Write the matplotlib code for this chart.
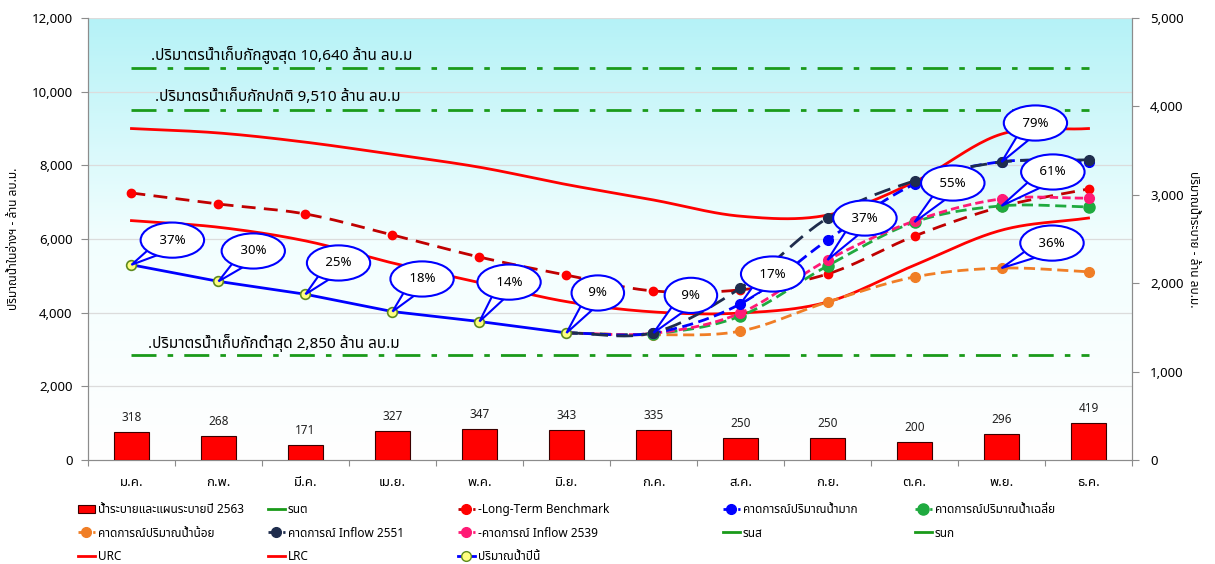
import numpy as np
import matplotlib
matplotlib.use('Agg')
import matplotlib.pyplot as plt
from matplotlib import font_manager as fm
from matplotlib.ft2font import FT2Font
from matplotlib.lines import Line2D
from matplotlib.patches import Patch, Polygon
from matplotlib.transforms import IdentityTransform
from matplotlib.colors import LinearSegmentedColormap
from matplotlib.ticker import FuncFormatter, MultipleLocator


# หาฟอนต์ที่มีอักษรไทย
def find_thai_font():
    names = []
    for f in fm.fontManager.ttflist:
        try:
            cmap = FT2Font(f.fname).get_charmap()
        except Exception:
            continue
        if 0x0E1B in cmap and 0x0E49 in cmap:
            names.append(f.name)
    for pref in ['Noto Sans Thai', 'Noto Sans Thai UI', 'Loma', 'Garuda', 'Sarabun', 'Tahoma']:
        if pref in names:
            return pref
    return names[0] if names else None


thai = find_thai_font()
plt.rcParams['font.family'] = ([thai] if thai else []) + ['DejaVu Sans']

# ข้อมูล
months = ['ม.ค.', 'ก.พ.', 'มี.ค.', 'เม.ย.', 'พ.ค.', 'มิ.ย.',
          'ก.ค.', 'ส.ค.', 'ก.ย.', 'ต.ค.', 'พ.ย.', 'ธ.ค.']
release = [318, 268, 171, 327, 347, 343, 335, 250, 250, 200, 296, 419]

current = [5300, 4850, 4500, 4030, 3760, 3450]            # ม.ค. - มิ.ย.
urc = [9000, 8880, 8630, 8300, 7950, 7480, 7060, 6620, 6650, 7550, 8850, 9000]
lrc = [6500, 6320, 5950, 5350, 4820, 4300, 4020, 3990, 4290, 5290, 6240, 6570]
benchmark = [7250, 6950, 6680, 6110, 5510, 5020, 4590, 4620, 5050, 6080, 6880, 7360]

# คาดการณ์ มิ.ย. - ธ.ค.
fc_high = [3450, 3450, 4240, 5970, 7490, 8100, 8080]
fc_avg = [3450, 3430, 3910, 5270, 6460, 6900, 6870]
fc_low = [3450, 3400, 3500, 4290, 4970, 5210, 5110]
fc_2551 = [3450, 3460, 4670, 6570, 7580, 8090, 8150]
fc_2539 = [3450, 3440, 3990, 5430, 6490, 7090, 7110]

max_level = 10640
normal_level = 9510
min_level = 2850

pct_labels = ['37%', '30%', '25%', '18%', '14%', '9%', '9%', '17%', '37%', '55%', '79%', '61%', '36%']


def smooth(xs, ys, n=24):
    # เส้นโค้งแบบ Catmull-Rom ผ่านทุกจุด
    xs = np.asarray(xs, float)
    ys = np.asarray(ys, float)
    px = np.concatenate([[2 * xs[0] - xs[1]], xs, [2 * xs[-1] - xs[-2]]])
    py = np.concatenate([[2 * ys[0] - ys[1]], ys, [2 * ys[-1] - ys[-2]]])
    ox, oy = [], []
    t = np.linspace(0, 1, n, endpoint=False)
    for i in range(1, len(px) - 2):
        for p, out in ((px, ox), (py, oy)):
            p0, p1, p2, p3 = p[i - 1], p[i], p[i + 1], p[i + 2]
            out.extend(0.5 * (2 * p1 + (-p0 + p2) * t
                              + (2 * p0 - 5 * p1 + 4 * p2 - p3) * t ** 2
                              + (-p0 + 3 * p1 - 3 * p2 + p3) * t ** 3))
    ox.append(xs[-1])
    oy.append(ys[-1])
    return ox, oy


x = np.arange(12)
xf = x[5:]

fig = plt.figure(figsize=(12.15, 5.64), dpi=100)
ax = fig.add_axes([0.0724, 0.1844, 0.8593, 0.7836])
ax2 = ax.twinx()

# พื้นหลังไล่สี
grad = np.linspace(0, 1, 256).reshape(-1, 1)
cmap = LinearSegmentedColormap.from_list('bg', ['#ffffff', '#f2fefe', '#b5f2f7'])
ax.imshow(grad, extent=[0, 1, 0, 1], transform=ax.transAxes, cmap=cmap,
          aspect='auto', origin='lower', zorder=0)

ax.set_xlim(-0.5, 11.5)
ax.set_ylim(0, 12000)
ax2.set_ylim(0, 5000)

for yv in range(2000, 12001, 2000):
    ax.axhline(yv, color='#dcdcdc', lw=0.9, zorder=1)

green = '#1a9a1a'
dd = (0, (9, 4, 2, 4))
ax.plot(x, [min_level] * 12, color=green, lw=2, ls=dd, zorder=2)
ax.plot(x, [max_level] * 12, color=green, lw=2, ls=dd, zorder=2)
ax.plot(x, [normal_level] * 12, color=green, lw=2, ls=dd, zorder=2)

ax.text(0.22, 10990, '.ปริมาตรน้ำเก็บกักสูงสุด 10,640 ล้าน ลบ.ม', fontsize=11, va='center', ha='left')
ax.text(0.27, 9860, '.ปริมาตรน้ำเก็บกักปกติ 9,510 ล้าน ลบ.ม', fontsize=11, va='center', ha='left')
ax.text(0.19, 3180, '.ปริมาตรน้ำเก็บกักต่ำสุด 2,850 ล้าน ลบ.ม', fontsize=11, va='center', ha='left')

# URC / LRC
sx, sy = smooth(x, urc)
ax.plot(sx, sy, color='#ff0000', lw=2, zorder=3)
sx, sy = smooth(x, lrc)
ax.plot(sx, sy, color='#ff0000', lw=2, zorder=3)

# Long-term benchmark
sx, sy = smooth(x, benchmark)
ax.plot(sx, sy, color='#c00000', lw=2, ls=(0, (5, 3)), zorder=3)
ax.plot(x, benchmark, 'o', color='#ff0000', ms=6, zorder=4)

styles = [
    (fc_low, '#f07e26', (0, (4, 2)), 7),
    (fc_avg, '#1faa3f', (0, (4, 2)), 8),
    (fc_2539, '#ff1a75', (0, (3, 1.5)), 7),
    (fc_high, '#0000ff', (0, (4, 2)), 7),
    (fc_2551, '#1f2d4d', (0, (6, 3)), 7),
]
for vals, c, ls, ms in styles:
    sx, sy = smooth(xf, vals)
    ax.plot(sx, sy, color=c, lw=2, ls=ls, zorder=5)
    ax.plot(xf[1:], vals[1:], 'o', color=c, ms=ms, zorder=6)

# ปริมาณน้ำปีนี้
ax.plot(x[:6], current, color='#0000ff', lw=2, zorder=7)
ax.plot(x[:6], current, 'o', mfc='#ffff80', mec='#5f8a1e', ms=7, mew=1.2, zorder=8)

# บอลลูนเปอร์เซ็นต์
anchors = [(0, current[0]), (1, current[1]), (2, current[2]), (3, current[3]),
           (4, current[4]), (5, current[5]), (6, fc_high[1]), (7, fc_high[2]),
           (8, fc_2539[3]), (9, fc_avg[4]), (10, fc_2551[5]), (10, fc_avg[5]),
           (10, fc_low[5])]
offsets = [(0.47, 670), (0.40, 825), (0.38, 850), (0.34, 885), (0.34, 1070),
           (0.36, 1085), (0.43, 1020), (0.37, 810), (0.43, 1140), (0.44, 1060),
           (0.39, 1060), (0.59, 920), (0.58, 680)]
for lab, (xa, ya), (dx, dy) in zip(pct_labels, anchors, offsets):
    tip = ax.transData.transform((xa, ya))
    base = ax.transData.transform((xa + dx, ya + dy))
    d = base - tip
    nrm = np.array([-d[1], d[0]]) / np.hypot(*d) * 9
    ax.add_patch(Polygon([tip, base + nrm, base - nrm], closed=True,
                         transform=IdentityTransform(), fc='white', ec='#0000ff',
                         lw=1.5, zorder=8.6, clip_on=False))
    ax.text(xa + dx, ya + dy, ' ' + lab + ' ', ha='center', va='center',
            fontsize=9.5, zorder=9,
            bbox=dict(boxstyle='ellipse,pad=0.45', fc='white', ec='#0000ff', lw=1.5))

# น้ำระบาย
ax2.bar(x, release, width=0.41, color='#ff0000', edgecolor='#3a0000', lw=0.8, zorder=3)
for xi, v in zip(x, release):
    ax2.text(xi, v + 90, str(v), ha='center', va='bottom', fontsize=8.5, color='#222222')

# แกน
fmt = FuncFormatter(lambda v, p: f'{int(v):,}')
ax.yaxis.set_major_locator(MultipleLocator(2000))
ax.yaxis.set_major_formatter(fmt)
ax2.yaxis.set_major_locator(MultipleLocator(1000))
ax2.yaxis.set_major_formatter(fmt)
ax.set_xticks(np.arange(-0.5, 12, 1))
ax.set_xticklabels([])
ax.tick_params(axis='x', length=4, color='#8c8c8c')
for xi, m in zip(x, months):
    ax.text(xi, -0.052, m, transform=ax.get_xaxis_transform(), ha='center',
            va='center', fontsize=9.5)
ax.tick_params(axis='y', length=5, color='#8c8c8c', labelsize=9.5, pad=6)
ax2.tick_params(axis='y', length=5, color='#8c8c8c', labelsize=9.5, pad=8)
for a in (ax, ax2):
    a.spines['top'].set_visible(False)
    for s in ('left', 'right', 'bottom'):
        a.spines[s].set_color('#8c8c8c')

ax.set_ylabel('ปริมาณน้ำในอ่างฯ - ล้าน ลบ.ม.', fontsize=8.5, labelpad=8)
ax2.set_ylabel('ปริมาณน้ำระบาย - ล้าน ลบ.ม.', fontsize=8.5, rotation=270, labelpad=12)


# คำอธิบายสัญลักษณ์
def mk(c, ls='-', marker=None, mfc=None, mec=None, ms=7):
    return Line2D([], [], color=c, lw=2, ls=ls, marker=marker,
                  mfc=mfc or c, mec=mec or c, ms=ms)


columns = [
    [(Patch(fc='#ff0000', ec='#3a0000', lw=0.8), 'น้ำระบายและแผนระบายปี 2563'),
     (mk('#f07e26', '--', 'o'), 'คาดการณ์ปริมาณน้ำน้อย'),
     (mk('#ff0000'), 'URC')],
    [(mk(green), 'รนต'),
     (mk('#1f2d4d', '--', 'o'), 'คาดการณ์ Inflow 2551'),
     (mk('#ff0000'), 'LRC')],
    [(mk('#c00000', '--', 'o', '#ff0000', '#ff0000'), '-Long-Term Benchmark'),
     (mk('#ff1a75', '--', 'o'), '-คาดการณ์ Inflow 2539'),
     (mk('#0000ff', '-', 'o', '#ffff80', '#5f8a1e'), 'ปริมาณน้ำปีนี้')],
    [(mk('#0000ff', '--', 'o'), 'คาดการณ์ปริมาณน้ำมาก'),
     (mk(green), 'รนส')],
    [(mk('#1faa3f', '--', 'o', ms=8), 'คาดการณ์ปริมาณน้ำเฉลี่ย'),
     (mk(green), 'รนก')],
]
col_x = [78, 268, 458, 723, 915]
for cx, col in zip(col_x, columns):
    fig.legend([h for h, _ in col], [l for _, l in col], loc='upper left',
               bbox_to_anchor=(cx / 1215, 1 - 503 / 564), frameon=False,
               fontsize=8.5, handlelength=1.4, handletextpad=0.3,
               borderpad=0, borderaxespad=0, labelspacing=0.9)

fig.savefig('out.png', dpi=100)
